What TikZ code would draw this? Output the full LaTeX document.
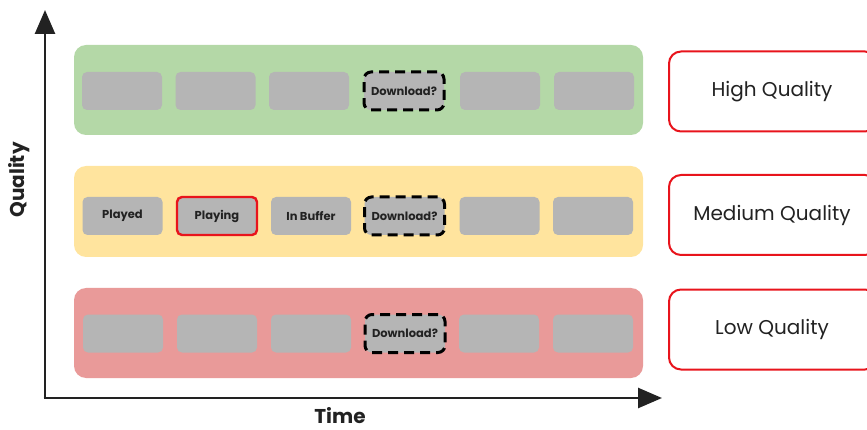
\documentclass[tikz,border=0pt]{standalone}
\usepackage{fontspec}
\setmainfont{Poppins}
\usetikzlibrary{arrows.meta}
\definecolor{bandgreen}{HTML}{B4D8A7}
\definecolor{bandyellow}{HTML}{FFE49E}
\definecolor{bandred}{HTML}{E99A99}
\definecolor{segray}{HTML}{B5B5B5}
\definecolor{qred}{HTML}{E8141C}
\definecolor{txt}{HTML}{222222}
\tikzset{
  x=1pt, y=-1pt,
  band/.style={rounded corners=12pt, draw=none},
  seg/.style={fill=segray, rounded corners=5pt, draw=none, minimum width=80pt, minimum height=38pt, inner sep=0pt, font=\bfseries\fontsize{11.5}{13}\selectfont, text=txt},
  playing/.style={seg, draw=qred, line width=2.4pt},
  dl/.style={seg, draw=black, line width=3pt, dash pattern=on 10pt off 6pt, rounded corners=7pt},
  qbox/.style={draw=qred, line width=2pt, rounded corners=12pt, fill=white},
  qtext/.style={font=\fontsize{20}{24}\selectfont, text=txt},
  axis/.style={line width=2.6pt, -{Triangle[length=24pt, width=20pt]}, draw=txt},
  axlabel/.style={font=\bfseries\fontsize{20}{24}\selectfont, text=txt, inner sep=0pt}
}
\begin{document}
\begin{tikzpicture}
\useasboundingbox (0,0) rectangle (867,430);
% bands
\fill[band, bandgreen] (74,45) rectangle (643,135);
\fill[band, bandyellow] (74,166) rectangle (643,257);
\fill[band, bandred] (74,288) rectangle (643,378);
% high row
\foreach \cx/\nm in {122/h1, 215.5/h2, 309/h3, 500/h5, 594/h6}
  \node[seg] (\nm) at (\cx,91) {};
\node[dl] (h4) at (404,91) {Download?};
% medium row
\node[seg] (m1) at (122.5,216) {Played};
\node[playing] (m2) at (217,216) {Playing};
\node[seg] (m3) at (311,216) {In Buffer};
\node[dl] (m4) at (404.5,216) {Download?};
\node[seg] (m5) at (499.5,216) {};
\node[seg] (m6) at (593,216) {};
% low row
\foreach \cx/\nm in {123/l1, 217/l2, 311/l3, 499/l5, 593/l6}
  \node[seg] (\nm) at (\cx,333.5) {};
\node[dl] (l4) at (405,333.5) {Download?};
% quality boxes
\node[qbox, minimum width=208pt, minimum height=80pt, anchor=west] (hq) at (668,91.5) {};
\node[qtext] (hqt) at (772,91.5) {High Quality};
\node[qbox, minimum width=208pt, minimum height=80pt, anchor=west] (mq) at (668,215) {};
\node[qtext] (mqt) at (772,215) {Medium Quality};
\node[qbox, minimum width=208pt, minimum height=80pt, anchor=west] (lq) at (668,329.5) {};
\node[qtext] (lqt) at (772,329.5) {Low Quality};
% axes
\coordinate (o) at (45,398);
\coordinate (ytop) at (45,10);
\coordinate (xend) at (662,398);
\draw[axis] (o) -- (ytop);
\draw[axis] ([xshift=-1.3pt]o) -- (xend);
\node[axlabel, rotate=90] (ql) at (19,180) {Quality};
\node[axlabel] (tl) at (340,416) {Time};
\end{tikzpicture}
\end{document}
